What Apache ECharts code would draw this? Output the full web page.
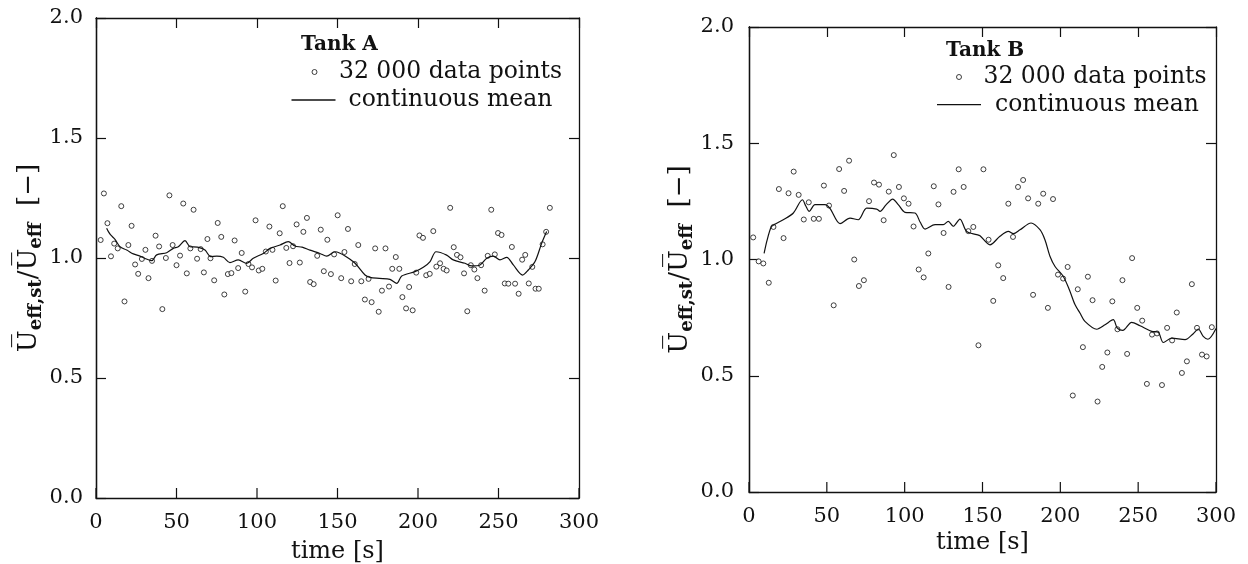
<!DOCTYPE html>
<html><head><meta charset="utf-8">
<script src="https://cdn.jsdelivr.net/npm/echarts@6/dist/echarts.min.js"></script>
<style>html,body{margin:0;padding:0;background:#fff}#c{width:1248px;height:564px}</style>
</head><body><div id="c"></div>
<script>
// ---- data ----
const xTickValues = [0,50,100,150,200,250,300];
const xTickLabels = ['0','50','100','150','200','250','300'];
const yTickLabels = ['0.0','0.5','1.0','1.5','2.0'];
const panelTitles = ['Tank A','Tank B'];
const pointsName = '32 000 data points';
const meanName = 'continuous mean';

const tA = [2.9,4.9,7.1,9.3,11.3,13.5,15.7,17.7,20.1,22.1,24.3,26.2,28.5,30.7,32.6,34.8,37.0,39.2,41.2,43.4,45.6,47.6,50.0,52.2,54.2,56.4,58.6,60.6,62.8,65.0,67.0,69.2,71.1,73.4,75.6,77.8,79.7,81.9,84.1,86.1,88.3,90.5,92.7,94.7,96.9,99.1,101.1,103.3,105.5,107.7,109.6,111.6,114.1,116.0,118.2,120.2,122.4,124.6,126.6,128.8,131.0,133.0,135.2,137.4,139.6,141.5,143.7,145.9,147.9,150.1,152.3,154.3,156.5,158.5,160.7,162.9,164.8,167.0,169.3,171.2,173.4,175.6,177.6,179.8,182.0,184.0,186.2,188.4,190.3,192.6,194.5,196.7,198.9,200.9,203.1,205.1,207.3,209.5,211.4,213.7,215.9,217.8,220.0,222.2,224.2,226.4,228.6,230.6,232.8,235.0,236.9,239.2,241.4,243.3,245.5,247.7,249.7,251.9,253.9,256.1,258.3,260.3,262.5,264.7,266.6,268.8,271.0,273.0,275.0,277.4,279.6,281.9];
const vA = [1.075,1.269,1.145,1.007,1.06,1.04,1.216,0.819,1.054,1.134,0.973,0.934,0.996,1.034,0.916,0.988,1.093,1.048,0.787,1.0,1.261,1.054,0.97,1.01,1.227,0.936,1.04,1.201,0.997,1.037,0.94,1.079,0.999,0.907,1.146,1.088,0.848,0.933,0.937,1.073,0.958,1.021,0.86,0.975,0.961,1.157,0.948,0.955,1.027,1.131,1.034,0.906,1.103,1.216,1.042,0.979,1.049,1.14,0.981,1.109,1.167,0.9,0.891,1.009,1.118,0.945,1.076,0.933,1.015,1.178,0.916,1.025,1.121,0.903,0.975,1.054,0.903,0.827,0.913,0.816,1.04,0.776,0.864,1.04,0.881,0.955,1.004,0.955,0.837,0.79,0.879,0.782,0.939,1.094,1.084,0.928,0.934,1.112,0.964,0.978,0.955,0.948,1.209,1.045,1.013,1.003,0.936,0.778,0.97,0.952,0.916,0.97,0.864,1.009,1.201,1.015,1.104,1.096,0.894,0.893,1.046,0.893,0.851,0.993,1.013,0.894,0.963,0.872,0.872,1.057,1.109,1.209];

const meanTA = [6.6,7.7,9.1,11.8,14.9,19.1,23.2,27.3,30.5,34.6,37.7,43.9,48.0,51.1,55.3,58.4,63,67.7,71.2,75,79.1,83.2,88.4,93.6,97.7,103.9,108.1,114.3,119.4,123.6,128,132.9,139.1,143.3,148.4,151.6,154.7,160.9,167.1,170.2,176,182.6,186.8,189.9,198.1,203.3,207.5,211.2,217.8,221.9,229.2,233.4,238.5,242.7,246.8,250.9,255.1,259.2,265.0,268.5,272.7,276.8,279.9];
const meanVA = [1.124,1.11,1.096,1.078,1.047,1.033,1.017,1.008,0.998,0.989,1.013,1.022,1.04,1.047,1.072,1.047,1.045,1.033,1.006,1.008,1.003,0.981,0.992,0.978,0.999,1.019,1.04,1.054,1.068,1.05,1.045,1.033,1.019,1.008,1.026,1.02,1.008,0.978,0.929,0.919,0.915,0.911,0.894,0.925,0.943,0.961,0.985,1.026,1.012,0.992,0.978,0.967,0.971,0.999,1.008,0.992,1.003,0.971,0.929,0.95,0.985,1.061,1.11];

const tB = [2.7,6.2,9.2,12.7,15.7,19.2,22.2,25.4,28.7,31.9,35.2,38.4,41.6,44.9,48.1,51.4,54.4,57.9,61.1,64.3,67.6,70.6,73.8,77.1,80.3,83.5,86.5,89.8,93.0,96.3,99.5,102.5,105.7,109.0,112.2,115.2,118.7,121.7,125.0,128.2,131.4,134.7,137.9,140.9,144.1,147.4,150.6,153.9,156.9,160.1,163.3,166.6,169.6,172.8,176.1,179.3,182.5,185.8,189.0,192.0,195.3,198.5,201.8,204.7,208.0,211.2,214.5,217.7,220.7,223.9,226.9,230.2,233.4,236.7,239.9,242.9,246.1,249.4,252.6,255.6,258.9,262.1,265.3,268.6,271.8,274.8,278.1,281.3,284.5,287.8,291.0,294.0,297.3];
const vB = [1.095,0.992,0.983,0.9,1.14,1.303,1.092,1.285,1.378,1.278,1.172,1.246,1.175,1.175,1.318,1.232,0.803,1.389,1.295,1.425,1.0,0.886,0.911,1.251,1.331,1.322,1.169,1.292,1.449,1.312,1.263,1.24,1.142,0.957,0.923,1.026,1.315,1.237,1.114,0.882,1.291,1.388,1.312,1.122,1.14,0.631,1.388,1.085,0.822,0.975,0.92,1.24,1.097,1.312,1.342,1.263,0.848,1.24,1.283,0.792,1.26,0.935,0.918,0.968,0.415,0.872,0.623,0.926,0.825,0.389,0.538,0.6,0.82,0.7,0.911,0.594,1.006,0.792,0.737,0.465,0.677,0.682,0.46,0.706,0.652,0.772,0.512,0.562,0.894,0.706,0.591,0.583,0.709];

const meanTB = [9.7,11.5,14.2,16.1,22.0,28.5,34.3,36.5,38.7,42.4,48.8,52,58.5,64.9,70.2,75.6,82.0,84.2,88,92.3,96,100.2,106.6,110,113.1,119.5,124.8,128.0,131.2,135.5,139.8,146.3,148.4,154.8,161.2,166.6,169.8,174.1,181.2,186.9,190.1,193.4,196.6,201.9,205.8,209.4,212.6,215.8,223.4,228.7,234.0,236.6,240.1,245.8,251.2,258.7,262.9,266.2,271.5,280.1,285.4,288.6,291.8,294.8,300];
const meanVB = [1.026,1.08,1.14,1.15,1.171,1.2,1.257,1.23,1.207,1.236,1.236,1.22,1.154,1.178,1.171,1.221,1.217,1.207,1.235,1.26,1.235,1.203,1.2,1.16,1.131,1.15,1.15,1.164,1.143,1.174,1.121,1.107,1.102,1.063,1.1,1.121,1.111,1.128,1.157,1.128,1.085,1.013,0.97,0.927,0.87,0.806,0.77,0.734,0.7,0.719,0.741,0.705,0.695,0.73,0.715,0.691,0.687,0.643,0.662,0.655,0.681,0.701,0.669,0.657,0.703];

// ---- chart ----
const FONT = 'DejaVu Serif';
const INK = '#111';
const zip = (a, b) => a.map((x, i) => [x, b[i]]);

const grids = [
  {left: 96, top: 18, width: 483, height: 480, outerBoundsMode: 'none', containLabel: false},
  {left: 749, top: 27, width: 467, height: 465, outerBoundsMode: 'none', containLabel: false}
];

const lineAx = {show: true, onZero: false, lineStyle: {color: INK, width: 1.3}};
const tickIn = {show: true, inside: true, length: 10, lineStyle: {color: INK, width: 1.2}};
const noTick = {show: false};
const noLabel = {show: false};

// per grid: [labelled bottom, plain top (ticks)]
function xAxes(gi, nameGap) {
  const base = {gridIndex: gi, type: 'value', min: 0, max: 300, interval: 50,
    axisLine: lineAx, splitLine: {show: false}, minorTick: {show: false}};
  return [
    Object.assign({}, base, {position: 'bottom', axisTick: noTick,
      axisLabel: {show: true, margin: 14, fontSize: 21, fontFamily: FONT, color: INK, lineHeight: 21,
        formatter: v => xTickLabels[Math.round(v / 50)]},
      name: 'time [s]', nameLocation: 'middle', nameGap: nameGap, nameMoveOverlap: false,
      nameTextStyle: {fontSize: 24, fontFamily: FONT, color: INK, lineHeight: 28}}),
    Object.assign({}, base, {position: 'top', axisTick: tickIn, axisLabel: noLabel})
  ];
}
const yName = '{u|U\u0305}{s|eff,st}{u|/U\u0305}{s|eff}{u|  [\u2212]}';
const yRich = {
  u: {fontSize: 26, fontFamily: FONT, color: INK, lineHeight: 32, verticalAlign: 'middle'},
  s: {fontSize: 18, fontFamily: FONT, fontWeight: 'bold', color: INK, lineHeight: 20, verticalAlign: 'bottom'}
};
// per grid: [labelled left, plain left (ticks), plain right (ticks)]
function yAxes(gi, margin, nameGap) {
  const base = {gridIndex: gi, type: 'value', min: 0, max: 2, interval: 0.5,
    axisLine: lineAx, splitLine: {show: false}, minorTick: {show: false}};
  return [
    Object.assign({}, base, {position: 'left', axisTick: noTick,
      axisLabel: {show: true, margin: margin, fontSize: 21, fontFamily: FONT, color: INK,
        formatter: v => yTickLabels[Math.round(v / 0.5)]},
      name: yName, nameLocation: 'middle', nameRotate: 90, nameGap: nameGap, nameMoveOverlap: false,
      nameTextStyle: {rich: yRich}}),
    Object.assign({}, base, {position: 'left', offset: 0, axisTick: tickIn, axisLabel: noLabel}),
    Object.assign({}, base, {position: 'right', axisTick: tickIn, axisLabel: noLabel})
  ];
}

// bottom inward ticks, placed through the x scale
function bottomTicks(xi, yi) {
  return {type: 'custom', xAxisIndex: xi, yAxisIndex: yi, silent: true, clip: false, z: 5,
    data: xTickValues.map(v => [v, 0]),
    renderItem: (params, api) => {
      const p = api.coord([api.value(0), api.value(1)]);
      return {type: 'line', shape: {x1: p[0], y1: p[1], x2: p[0], y2: p[1] - 10},
        style: {stroke: INK, lineWidth: 1.2}};
    }};
}

const legTxt = {fontSize: 23.5, fontFamily: FONT, color: INK, lineHeight: 26};
const scatterStyle = {color: '#fff', borderColor: INK, borderWidth: 1};
function ptsLegend(left, top, pad) {
  return {left: left, top: top, padding: 0, itemWidth: 5, itemHeight: 5, selectedMode: false,
    data: [{name: pointsName, icon: 'circle', itemStyle: scatterStyle}],
    textStyle: Object.assign({}, legTxt, {padding: [0, 0, 0, pad]})};
}
function meanLegend(left, top, pad) {
  return {left: left, top: top, padding: 0, itemWidth: 44, itemHeight: 1.3, selectedMode: false,
    data: [{name: meanName, icon: 'rect', itemStyle: {color: INK, borderWidth: 0}}],
    textStyle: Object.assign({}, legTxt, {padding: [0, 0, 0, pad]})};
}

const option = {
  animation: false,
  backgroundColor: '#fff',
  grid: grids,
  title: [
    {text: panelTitles[0], left: 301, top: 33, padding: 0,
      textStyle: {fontSize: 20, fontWeight: 'bold', fontFamily: FONT, color: INK, lineHeight: 24}},
    {text: panelTitles[1], left: 946, top: 39, padding: 0,
      textStyle: {fontSize: 20, fontWeight: 'bold', fontFamily: FONT, color: INK, lineHeight: 24}}
  ],
  legend: [
    ptsLegend(311.5, 59, 17),
    meanLegend(291.5, 87, 8),
    ptsLegend(956, 64, 17),
    meanLegend(937, 91.7, 9)
  ],
  xAxis: xAxes(0, 40).concat(xAxes(1, 37)),
  yAxis: yAxes(0, 13, 51).concat(yAxes(1, 15, 53)),
  series: [
    {type: 'scatter', name: pointsName, xAxisIndex: 0, yAxisIndex: 0, data: zip(tA, vA),
      symbol: 'circle', symbolSize: 5, itemStyle: scatterStyle},
    {type: 'line', name: meanName, xAxisIndex: 0, yAxisIndex: 0, data: zip(meanTA, meanVA),
      symbol: 'none', smooth: 0.3, lineStyle: {color: INK, width: 1.2}, itemStyle: {color: INK}},
    bottomTicks(0, 0),
    {type: 'scatter', name: pointsName, xAxisIndex: 2, yAxisIndex: 3, data: zip(tB, vB),
      symbol: 'circle', symbolSize: 5, itemStyle: scatterStyle},
    {type: 'line', name: meanName, xAxisIndex: 2, yAxisIndex: 3, data: zip(meanTB, meanVB),
      symbol: 'none', smooth: 0.3, lineStyle: {color: INK, width: 1.2}, itemStyle: {color: INK}},
    bottomTicks(2, 3)
  ]
};
echarts.init(document.getElementById('c')).setOption(option);
</script></body></html>
